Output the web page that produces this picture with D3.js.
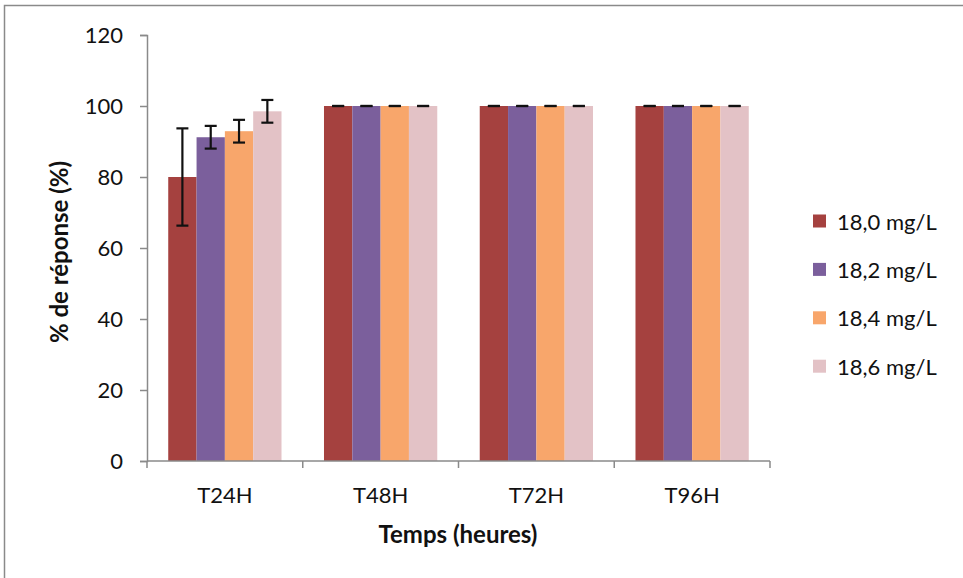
<!DOCTYPE html>
<html><head><meta charset="utf-8">
<script src="https://cdn.jsdelivr.net/npm/d3@7"></script>
<style>body{margin:0;background:#fff}text{font-family:Lato,"Open Sans",sans-serif}</style>
</head><body>
<svg id="c" width="963" height="578"></svg>
<script>
const categories = ["T24H","T48H","T72H","T96H"];
const seriesNames = ["18,0 mg/L","18,2 mg/L","18,4 mg/L","18,6 mg/L"];
const s180 = [80.0,100,100,100];
const s182 = [91.2,100,100,100];
const s184 = [92.9,100,100,100];
const s186 = [98.5,100,100,100];
const e180 = [13.7,0,0,0];
const e182 = [3.2,0,0,0];
const e184 = [3.2,0,0,0];
const e186 = [3.2,0,0,0];
const yTicks = [0,20,40,60,80,100,120];
const colors = ["#A5413F","#7B5F9C","#F8A66B","#E3C2C6"];

const values = [s180,s182,s184,s186];
const errors = [e180,e182,e184,e186];
const FONT = "Lato, 'Open Sans', sans-serif";

const svg = d3.select("#c");
svg.append("rect").attr("x",4.5).attr("y",5.5).attr("width",1000).attr("height",1000)
  .attr("fill","none").attr("stroke","#8a8a8a").attr("stroke-width",1.5);

const pL=147, pR=770, pT=35, pB=461;
const x = d3.scaleBand().domain(categories).range([pL,pR]).paddingInner(0).paddingOuter(0);
const gapRatio = 1.5;
const bw = x.bandwidth()/(seriesNames.length+gapRatio);
const x1 = d3.scaleBand().domain(seriesNames).range([bw*gapRatio/2, bw*gapRatio/2+bw*4]);
const y = d3.scaleLinear().domain([0,120]).range([pB,pT]);

// bars
seriesNames.forEach((s,si)=>{
  svg.append("g").selectAll("rect").data(categories).join("rect")
    .attr("x",c=>x(c)+x1(s))
    .attr("y",(c,i)=>y(values[si][i]))
    .attr("width",x1.bandwidth())
    .attr("height",(c,i)=>y(0)-y(values[si][i]))
    .attr("fill",colors[si]);
});
// error bars
seriesNames.forEach((s,si)=>{
  const g = svg.append("g").attr("stroke","#111").attr("stroke-width",2.2);
  categories.forEach((c,i)=>{
    const cx = x(c)+x1(s)+x1.bandwidth()/2;
    const v = values[si][i], e = errors[si][i];
    g.append("line").attr("x1",cx).attr("x2",cx).attr("y1",y(v+e)).attr("y2",y(v-e));
    [v+e,v-e].forEach(t=>g.append("line").attr("x1",cx-6).attr("x2",cx+6).attr("y1",y(t)).attr("y2",y(t)));
  });
});

// y axis
const ya = svg.append("g").attr("transform",`translate(${pL},0)`)
  .call(d3.axisLeft(y).tickValues(yTicks).tickSize(7).tickPadding(17));
ya.select(".domain").attr("stroke","#8a8a8a").attr("stroke-width",1.5);
ya.selectAll(".tick line").attr("stroke","#8a8a8a").attr("stroke-width",1.5);
ya.selectAll("text").attr("font-size",22).attr("fill","#111").style("font-family",FONT);

// x axis
const xa = svg.append("g").attr("transform",`translate(0,${pB})`);
xa.append("line").attr("x1",pL).attr("x2",pR).attr("y1",0).attr("y2",0).attr("stroke","#8a8a8a").attr("stroke-width",1.5);
const bounds = categories.map(c=>x(c)).concat([x(categories[categories.length-1])+x.bandwidth()]);
xa.selectAll("line.t").data(bounds).join("line").attr("class","t")
  .attr("x1",d=>d).attr("x2",d=>d).attr("y1",0).attr("y2",7).attr("stroke","#8a8a8a").attr("stroke-width",1.5);
xa.selectAll("text").data(categories).join("text")
  .attr("x",c=>x(c)+x.bandwidth()/2).attr("y",42).attr("text-anchor","middle")
  .attr("font-size",22).attr("fill","#111").text(c=>c);

// axis titles
svg.append("text").attr("x",458).attr("y",543).attr("text-anchor","middle")
  .attr("font-size",24).attr("font-weight","bold").attr("fill","#111").text("Temps (heures)");
svg.append("text").attr("transform","translate(68,252) rotate(-90)").attr("text-anchor","middle")
  .attr("font-size",24).attr("font-weight","bold").attr("fill","#111").text("% de réponse  (%)");

// legend
const lg = svg.append("g");
seriesNames.forEach((s,i)=>{
  const ly = 221 + i*48.4;
  lg.append("rect").attr("x",813).attr("y",ly-6.5).attr("width",13).attr("height",13).attr("fill",colors[i]);
  lg.append("text").attr("x",837).attr("y",ly+8.5).attr("font-size",22).attr("fill","#111").text(s);
});
</script>
</body></html>
